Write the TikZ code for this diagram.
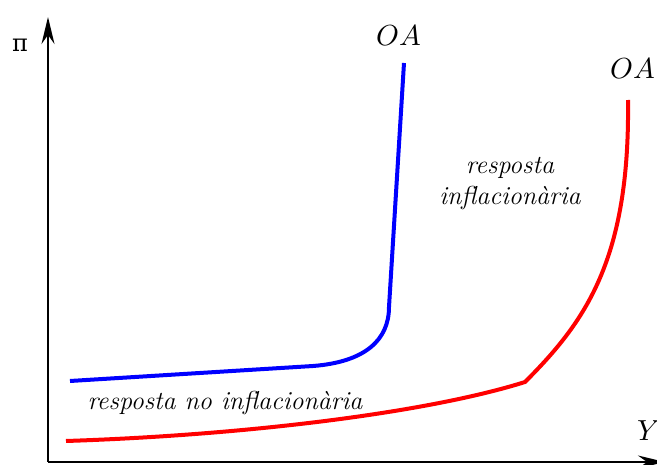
\documentclass[tikz,border=0pt]{standalone}
\usepackage{unicode-math}
\newfontfamily\pifont{DejaVu Serif}
\usetikzlibrary{arrows.meta}
\begin{document}
\begin{tikzpicture}[x=1pt,y=-1pt,
  axis/.style={line width=2pt,-{Stealth[length=27pt,width=13pt,inset=9pt]}},
  curveblue/.style={draw=blue,line width=4pt},
  curvered/.style={draw=red,line width=4pt},
  lbl/.style={font=\fontsize{26}{31}\selectfont\itshape,inner sep=0pt,align=center},
  mlbl/.style={font=\fontsize{29}{34}\selectfont,inner sep=0pt}]
\useasboundingbox (0,0) rectangle (657,465);
\clip (0,0) rectangle (657,465);
\coordinate (O) at (48,462);
\coordinate (ytop) at (48,17);
\coordinate (xend) at (665,462);
\draw[axis] (O) -- (ytop);
\draw[axis] (O) -- (xend);
% blue curve
\coordinate (b1) at (70,381);
\coordinate (b2) at (313,366);
\coordinate (b3) at (389,307);
\coordinate (b4) at (404,63);
\draw[curveblue] (b1) -- (b2) .. controls (365,362) and (389,340) .. (b3) -- (b4);
% red curve
\coordinate (r1) at (66,441);
\coordinate (r2) at (525,382);
\coordinate (r3) at (628,100);
\draw[curvered] (r1) .. controls (250,435) and (430,412) .. (r2)
  .. controls (585,322) and (630,260) .. (r3);
% labels
\node[font=\fontsize{24}{28}\selectfont\pifont,inner sep=0pt] (pi) at (20,45) {π};
\node[mlbl] (oa1) at (399,35) {$OA$};
\node[mlbl] (oa2) at (633,68) {$OA$};
\node[mlbl] (y) at (649,431) {$Y$};
\node[lbl] (infl) at (510,184) {resposta\\inflacionària};
\node[lbl] (noinfl) at (225,403) {resposta no inflacionària};
\end{tikzpicture}
\end{document}
